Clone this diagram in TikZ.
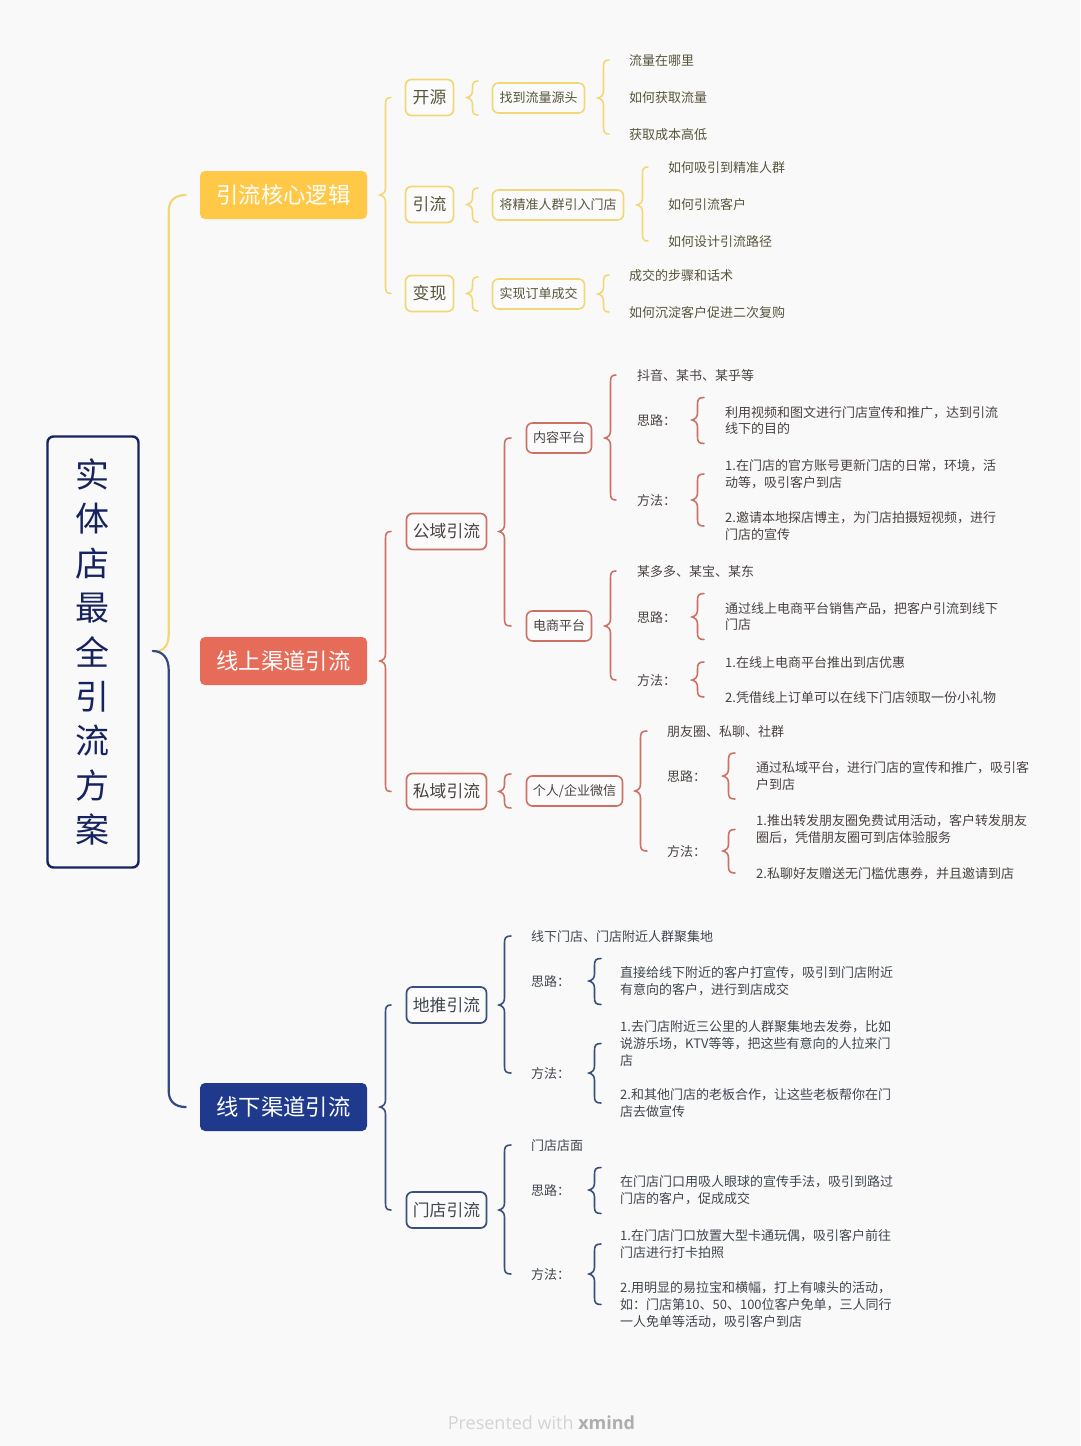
\documentclass[tikz,border=0pt]{standalone}
\usepackage{fontspec}
\setmainfont{Noto Sans CJK SC}
\newfontfamily\footfont{Open Sans}
\usetikzlibrary{calc}
\definecolor{bgc}{HTML}{F9F9F9}
\definecolor{yelf}{HTML}{FFC947}
\definecolor{redf}{HTML}{E76B59}
\definecolor{navf}{HTML}{1F3A8C}
\definecolor{yell}{HTML}{F3D777}
\definecolor{redl}{HTML}{CB7265}
\definecolor{navl}{HTML}{3B4F7C}
\definecolor{rootc}{HTML}{16235F}
\definecolor{yelt}{HTML}{57553A}
\definecolor{redt}{HTML}{4A4241}
\definecolor{navt}{HTML}{40454F}
\tikzset{
  x=1pt,y=-1pt,
  lone/.style={draw=none,rounded corners=5pt,text=white,inner sep=0pt,minimum width=167pt,minimum height=48pt,font=\fontsize{22.3}{26}\selectfont,fill=#1},
  ltwo/.style={draw=#1,fill=white!40!bgc,line width=1.7pt,rounded corners=6pt,inner sep=0pt,minimum height=36pt,font=\fontsize{16.8}{20}\selectfont},
  lthr/.style={draw=#1,fill=white!40!bgc,line width=1.6pt,rounded corners=6pt,inner sep=0pt,minimum height=30pt,font=\fontsize{13}{16}\selectfont},
  leaf/.style={anchor=west,inner sep=0pt,align=left,font=\fontsize{13}{16.7}\selectfont,execute at begin node={\rule{0pt}{11.4pt}}},
  brc/.style={line width=1.6pt,line cap=round,draw=#1},
  rootlink/.style={line width=2.2pt,line cap=round,draw=#1}
}
% colour, parent, top end, bottom end, tip x, end x
\newcommand\brcm[6]{%
  \draw[brc=#1] let \p1=(#2),\p2=(#3),\p3=(#4) in
   ({#6*1pt},{\y2}) .. controls ({(#5+6.5)*1pt},{\y2}) and ({(#5+5.5)*1pt},{\y2-2pt}) .. ({(#5+5.5)*1pt},{\y2-7pt})
   -- ({(#5+5.5)*1pt},{\y1+7pt}) .. controls ({(#5+5.5)*1pt},{\y1+3pt}) and ({(#5+3.5)*1pt},{\y1+1pt}) .. ({#5*1pt},{\y1})
   .. controls ({(#5+3.5)*1pt},{\y1-1pt}) and ({(#5+5.5)*1pt},{\y1-3pt}) .. ({(#5+5.5)*1pt},{\y1-7pt})
   -- ({(#5+5.5)*1pt},{\y3+7pt}) .. controls ({(#5+5.5)*1pt},{\y3+2pt}) and ({(#5+6.5)*1pt},{\y3}) .. ({#6*1pt},{\y3});
}
% colour, parent, single child, half height, tip x, end x
\newcommand\brcs[6]{%
  \brcm{#1}{#2}{$(#3.west)+(0,#4)$}{$(#3.west)+(0,-#4)$}{#5}{#6}%
}
\begin{document}
\begin{tikzpicture}
\useasboundingbox (0,0) rectangle (1080,1446);
\fill[bgc] (0,0) rectangle (1080,1446);

% root
\node[draw=rootc,fill=bgc,text=rootc,line width=2.4pt,rounded corners=6pt,inner sep=0pt,minimum width=91pt,minimum height=431pt,align=center,font=\fontsize{34}{44.4}\selectfont] (root) at (93,652) {\hspace*{-2pt}实\\\hspace*{-2pt}体\\\hspace*{-2pt}店\\\hspace*{-2pt}最\\\hspace*{-2pt}全\\\hspace*{-2pt}引\\\hspace*{-2pt}流\\\hspace*{-2pt}方\\\hspace*{-2pt}案};

% level one
\node[lone=yelf] (yA) at (283.5,195) {引流核心逻辑};
\node[lone=redf] (rA) at (283.5,661) {线上渠道引流};
\node[lone=navf] (nA) at (283.5,1107) {线下渠道引流};

\draw[rootlink=yell] let \p1=(root.east),\p2=(yA.west) in
  ({\x1+17pt},{\y1+1pt}) .. controls ({\x1+25pt},{\y1+1pt}) and ({\x1+29pt},{\y1+8pt}) .. ({\x1+29pt},{\y1+18pt})
  -- ({\x1+29pt},{\y2-16pt}) .. controls ({\x1+29pt},{\y2-6pt}) and ({\x1+35pt},{\y2}) .. ({\x2-14pt},{\y2});
\draw[rootlink=navl!70!navf] let \p1=(root.east),\p2=(nA.west) in
  ({\x1+13pt},{\y1+1pt}) .. controls ({\x1+23pt},{\y1+1pt}) and ({\x1+29pt},{\y1-6pt}) .. ({\x1+29pt},{\y1-18pt})
  -- ({\x1+29pt},{\y2+16pt}) .. controls ({\x1+29pt},{\y2+6pt}) and ({\x1+35pt},{\y2}) .. ({\x2-14pt},{\y2});

% ===== yellow =====
\begin{scope}[text=yelt]
\node[ltwo=yell,minimum width=48pt] (y1) at (429.5,97.5) {开源};
\node[ltwo=yell,minimum width=48pt] (y2) at (429.5,204.5) {引流};
\node[ltwo=yell,minimum width=48pt] (y3) at (429.5,293.5) {变现};
\node[lthr=yell,minimum width=92pt] (y1a) at (538.5,98) {找到流量源头};
\node[lthr=yell,minimum width=131pt] (y2a) at (558,205) {将精准人群引入门店};
\node[lthr=yell,minimum width=92pt] (y3a) at (538.5,294) {实现订单成交};
\node[leaf] (y1a1) at (629,60) {流量在哪里};
\node[leaf] (y1a2) at (629,97) {如何获取流量};
\node[leaf] (y1a3) at (629,134) {获取成本高低};
\node[leaf] (y2a1) at (668,167) {如何吸引到精准人群};
\node[leaf] (y2a2) at (668,204) {如何引流客户};
\node[leaf] (y2a3) at (668,241) {如何设计引流路径};
\node[leaf] (y3a1) at (629,275) {成交的步骤和话术};
\node[leaf] (y3a2) at (629,312) {如何沉淀客户促进二次复购};
\end{scope}
\brcm{yell}{yA.east}{y1.west}{y3.west}{380}{391}
\brcs{yell}{y1.east}{y1a}{17pt}{467}{478}
\brcs{yell}{y2.east}{y2a}{17pt}{467}{478}
\brcs{yell}{y3.east}{y3a}{17pt}{467}{478}
\brcm{yell}{y1a.east}{y1a1.west}{y1a3.west}{598}{609}
\brcm{yell}{y2a.east}{y2a1.west}{y2a3.west}{637}{648}
\brcm{yell}{y3a.east}{y3a1.west}{y3a2.west}{598}{609}

% ===== red =====
\begin{scope}[text=redt]
\node[ltwo=redl,minimum width=80pt] (r1) at (446.5,531.5) {公域引流};
\node[ltwo=redl,minimum width=80pt] (r2) at (446.5,791.5) {私域引流};
\node[lthr=redl,minimum width=65pt] (r1a) at (559,438) {内容平台};
\node[lthr=redl,minimum width=65pt] (r1b) at (559,626) {电商平台};
\node[lthr=redl,minimum width=96pt] (r2a) at (574.5,791) {个人/企业微信};

\node[leaf] (r1a1) at (637,375) {抖音、某书、某乎等};
\node[leaf] (r1a2) at (637,420) {思路：};
\node[leaf] (r1a3) at (637,500) {方法：};
\node[leaf] (r1a2t) at (725,420.5) {利用视频和图文进行门店宣传和推广，达到引流\\线下的目的};
\node[leaf] (r1a3t) at (725,474) {1.在门店的官方账号更新门店的日常，环境，活\\动等，吸引客户到店};
\node[leaf] (r1a3u) at (725,526) {2.邀请本地探店博主，为门店拍摄短视频，进行\\门店的宣传};

\node[leaf] (r1b1) at (637,571) {某多多、某宝、某东};
\node[leaf] (r1b2) at (637,617) {思路：};
\node[leaf] (r1b3) at (637,680) {方法：};
\node[leaf] (r1b2t) at (725,616.5) {通过线上电商平台销售产品，把客户引流到线下\\门店};
\node[leaf] (r1b3t) at (725,662) {1.在线上电商平台推出到店优惠};
\node[leaf] (r1b3u) at (725,697) {2.凭借线上订单可以在线下门店领取一份小礼物};

\node[leaf] (r2a1) at (667,731) {朋友圈、私聊、社群};
\node[leaf] (r2a2) at (667,776) {思路：};
\node[leaf] (r2a3) at (667,851) {方法：};
\node[leaf] (r2a2t) at (756,776) {通过私域平台，进行门店的宣传和推广，吸引客\\户到店};
\node[leaf] (r2a3t) at (756,829.5) {1.推出转发朋友圈免费试用活动，客户转发朋友\\圈后，凭借朋友圈可到店体验服务};
\node[leaf] (r2a3u) at (756,873) {2.私聊好友赠送无门槛优惠券，并且邀请到店};
\end{scope}
\brcm{redl}{rA.east}{r1.west}{r2.west}{380}{391}
\brcm{redl}{r1.east}{r1a.west}{r1b.west}{499}{511}
\brcs{redl}{r2.east}{r2a}{17pt}{499}{511}
\brcm{redl}{r1a.east}{r1a1.west}{r1a3.west}{605}{616}
\brcm{redl}{r1b.east}{r1b1.west}{r1b3.west}{605}{616}
\brcm{redl}{r2a.east}{r2a1.west}{r2a3.west}{635}{647}
\brcs{redl}{r1a2.east}{r1a2t}{23pt}{692}{704}
\brcm{redl}{r1a3.east}{r1a3t.west}{r1a3u.west}{692}{704}
\brcs{redl}{r1b2.east}{r1b2t}{23pt}{692}{704}
\brcm{redl}{r1b3.east}{r1b3t.west}{r1b3u.west}{692}{704}
\brcs{redl}{r2a2.east}{r2a2t}{23pt}{723}{735}
\brcm{redl}{r2a3.east}{r2a3t.west}{r2a3u.west}{723}{735}

% ===== navy =====
\begin{scope}[text=navt]
\node[ltwo=navl,minimum width=80pt] (n1) at (446.5,1005) {地推引流};
\node[ltwo=navl,minimum width=80pt] (n2) at (446.5,1210) {门店引流};

\node[leaf] (n1a) at (531,936) {线下门店、门店附近人群聚集地};
\node[leaf] (n1b) at (531,981) {思路：};
\node[leaf] (n1c) at (531,1073) {方法：};
\node[leaf] (n1bt) at (620,981.5) {直接给线下附近的客户打宣传，吸引到门店附近\\有意向的客户，进行到店成交};
\node[leaf] (n1ct) at (620,1043.5) {1.去门店附近三公里的人群聚集地去发劵，比如\\说游乐场，KTV等等，把这些有意向的人拉来门\\店};
\node[leaf] (n1cu) at (620,1103) {2.和其他门店的老板合作，让这些老板帮你在门\\店去做宣传};

\node[leaf] (n2a) at (531,1145) {门店店面};
\node[leaf] (n2b) at (531,1190) {思路：};
\node[leaf] (n2c) at (531,1274) {方法：};
\node[leaf] (n2bt) at (620,1190.5) {在门店门口用吸人眼球的宣传手法，吸引到路过\\门店的客户，促成成交};
\node[leaf] (n2ct) at (620,1244) {1.在门店门口放置大型卡通玩偶，吸引客户前往\\门店进行打卡拍照};
\node[leaf] (n2cu) at (620,1304.5) {2.用明显的易拉宝和横幅，打上有噱头的活动，\\如：门店第10、50、100位客户免单，三人同行\\一人免单等活动，吸引客户到店};
\end{scope}
\brcm{navl}{nA.east}{n1.west}{n2.west}{380}{391}
\brcm{navl}{n1.east}{n1a.west}{n1c.west}{499}{511}
\brcm{navl}{n2.east}{n2a.west}{n2c.west}{499}{511}
\brcs{navl}{n1b.east}{n1bt}{23pt}{589}{601}
\brcm{navl}{n1c.east}{n1ct.west}{n1cu.west}{589}{601}
\brcs{navl}{n2b.east}{n2bt}{23pt}{589}{601}
\brcm{navl}{n2c.east}{n2ct.west}{n2cu.west}{589}{601}

% footer
\node[inner sep=0pt,text=black!17,font=\footfont\fontsize{18}{22}\selectfont] (foot) at (541.5,1423) {Presented with \textcolor{black!32}{\bfseries xmind}};
\end{tikzpicture}
\end{document}
